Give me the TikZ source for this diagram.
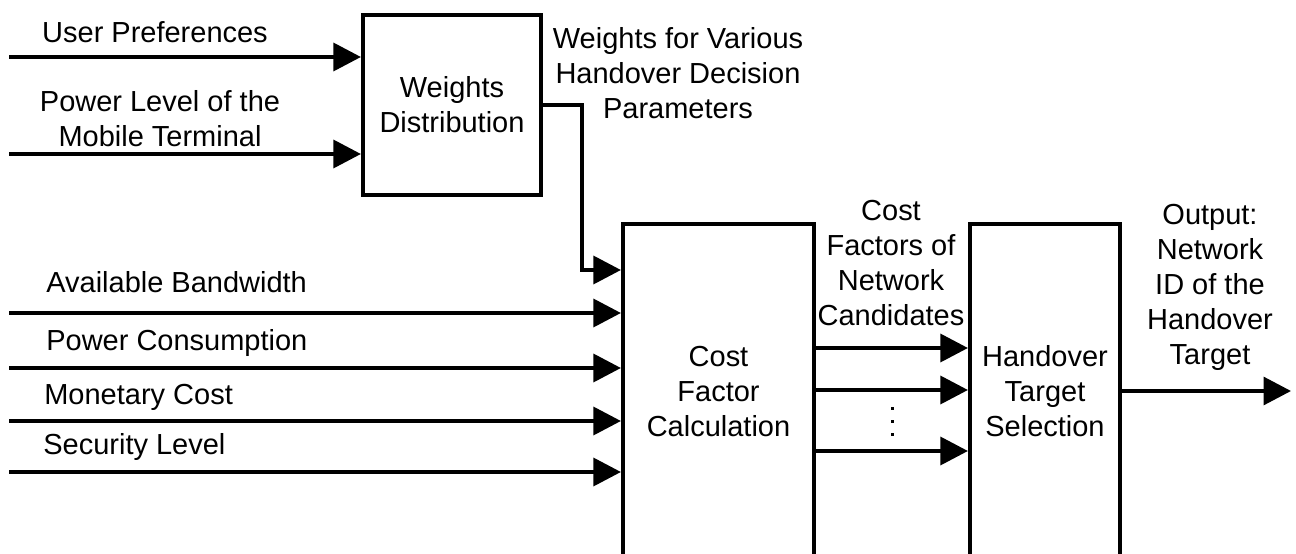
\documentclass[tikz,border=0pt]{standalone}
\usepackage{fontspec}
\setmainfont{Liberation Sans}
\usetikzlibrary{arrows.meta, positioning}

\begin{document}
\begin{tikzpicture}[
    x=0.02cm, y=-0.02cm,
    font=\fontsize{16.5}{19.9}\selectfont,
    >={Triangle[length=0.55cm, width=0.56cm]},
    block/.style={draw, line width=2.4pt, align=center, inner sep=0pt},
    label/.style={align=center, inner sep=0pt},
    side/.style={anchor=base west, inner sep=0pt},
    arrow/.style={->, line width=1.9pt}
]
\useasboundingbox (0,0) rectangle (1296,554);
\clip (0,0) rectangle (1296,554);

% BLOCKS
\node[block, minimum width=3.56cm, minimum height=3.6cm] (wd) at (452,105) {Weights\\Distribution};
\node[block, minimum width=3.82cm, minimum height=6.7cm] (cf) at (718.5,391.5) {Cost\\Factor\\Calculation};
\node[block, minimum width=3.0cm, minimum height=6.7cm] (hs) at (1045,391.5) {Handover\\Target\\Selection};

% INPUTS OF THE WEIGHTS DISTRIBUTION
\coordinate (pref) at (9,57);
\coordinate (power) at (9,154);
\node[label] (prefl) at (155,32) {User Preferences};
\node[label] (powerl) at (160,119) {Power Level of the\\Mobile Terminal};
\draw[arrow] (pref) -- (pref -| wd.west);
\draw[arrow] (power) -- (power -| wd.west);

% WEIGHTS TO COST FACTOR CALCULATION
\node[label] (weightsl) at (678,73) {Weights for Various\\Handover Decision\\Parameters};
\coordinate (bend) at (582,270);
\draw[arrow] (wd.east |- 0,105) -| (bend) -- (bend -| cf.west);

% INPUTS OF THE COST FACTOR CALCULATION
\coordinate (bw) at (9,313);
\coordinate (pc) at (9,368);
\coordinate (mc) at (9,421);
\coordinate (sl) at (9,472);
\node[side] (bwl) at (46,293) {Available Bandwidth};
\node[side] (pcl) at (46,350) {Power Consumption};
\node[side] (mcl) at (44,404) {Monetary Cost};
\node[side] (sll) at (43,454) {Security Level};
\draw[arrow] (bw) -- (bw -| cf.west);
\draw[arrow] (pc) -- (pc -| cf.west);
\draw[arrow] (mc) -- (mc -| cf.west);
\draw[arrow] (sl) -- (sl -| cf.west);

% COST FACTORS
\node[label] (costl) at (891,263) {Cost\\Factors of\\Network\\Candidates};
\coordinate (c1) at (814,348);
\coordinate (c2) at (814,390);
\coordinate (c3) at (814,451);
\draw[arrow] (c1 -| cf.east) -- (c1 -| hs.west);
\draw[arrow] (c2 -| cf.east) -- (c2 -| hs.west);
\draw[arrow] (c3 -| cf.east) -- (c3 -| hs.west);
\foreach \y in {408,421,434}
    \fill (890.5,\y-1.5) rectangle (893.5,\y+1.5);

% OUTPUT
\node[label] (outl) at (1210,287) {Output:\\Network\\ID of the\\Handover\\Target};
\coordinate (out) at (1291,391);
\draw[arrow] (out -| hs.east) -- (out);

\end{tikzpicture}
\end{document}
